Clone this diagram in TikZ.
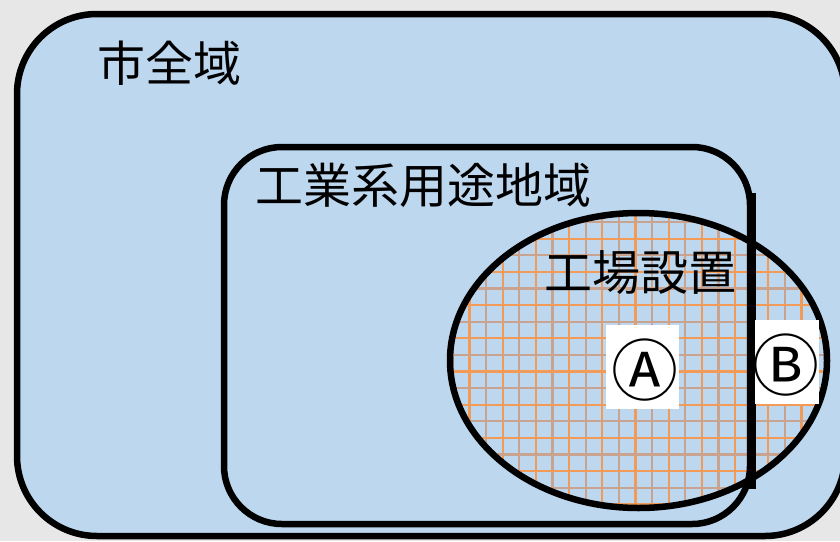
\documentclass[tikz,border=0pt]{standalone}
\usepackage{fontspec}
\newfontfamily\jpfont{Noto Sans CJK JP}
\definecolor{bgc}{HTML}{E7E7E7}
\definecolor{areablue}{HTML}{BDD7EE}
\definecolor{gridor}{HTML}{F29A58}
\definecolor{gridbr}{HTML}{C8A490}
\tikzset{
  border/.style={line width=6.5pt, draw=black},
  jplabel/.style={inner sep=0pt, font=\jpfont\fontsize{48}{48}\selectfont},
  markbox/.style={fill=white, inner sep=0pt},
  marktext/.style={inner sep=0pt, font=\jpfont\fontsize{67}{67}\selectfont},
}
\begin{document}
\begin{tikzpicture}[x=1pt,y=-1pt,line join=round]
\useasboundingbox (0,0) rectangle (840,541);
\clip (0,0) rectangle (840,541);
\fill[bgc] (0,0) rectangle (840,541);
% city area
\draw[border, fill=areablue, rounded corners=80pt] (17,14) rectangle (845,536);
% factory ellipse with grid
\begin{scope}
  \clip (638.5,360.5) ellipse [x radius=188.5pt, y radius=147.5pt];
  \fill[areablue] (440,200) rectangle (840,520);
  \foreach \x in {452.8,486,...,840} \draw[gridbr, line width=2.2pt] (\x,200) -- (\x,520);
  \foreach \x in {469.4,502.6,...,840} \draw[gridor, line width=2.2pt] (\x,200) -- (\x,520);
  \foreach \y in {205.4,238.6,...,520} \draw[gridor, line width=2.2pt] (440,\y) -- (840,\y);
  \foreach \y in {222,255.2,...,520} \draw[gridbr, line width=2.2pt] (440,\y) -- (840,\y);
\end{scope}
\draw[border] (638.5,360.5) ellipse [x radius=188.5pt, y radius=147.5pt];
% industrial zone
\draw[border, rounded corners=58pt] (224,147) rectangle (750,524);
\draw[line width=7pt] (752,193) -- (752,489);
% labels
\node[jplabel] (city) at (169,63) {市全域};
\node[jplabel] (zone) at (423,185) {工業系用途地域};
\node[jplabel] (factory) at (640,273) {工場設置};
\node[markbox, minimum width=73pt, minimum height=84pt] (boxA) at (642.5,367) {};
\node[markbox, minimum width=64pt, minimum height=84pt] (boxB) at (787,362) {};
\node[marktext] (markA) at (645,370) {Ⓐ};
\node[marktext] (markB) at (786,365) {Ⓑ};
\end{tikzpicture}
\end{document}
